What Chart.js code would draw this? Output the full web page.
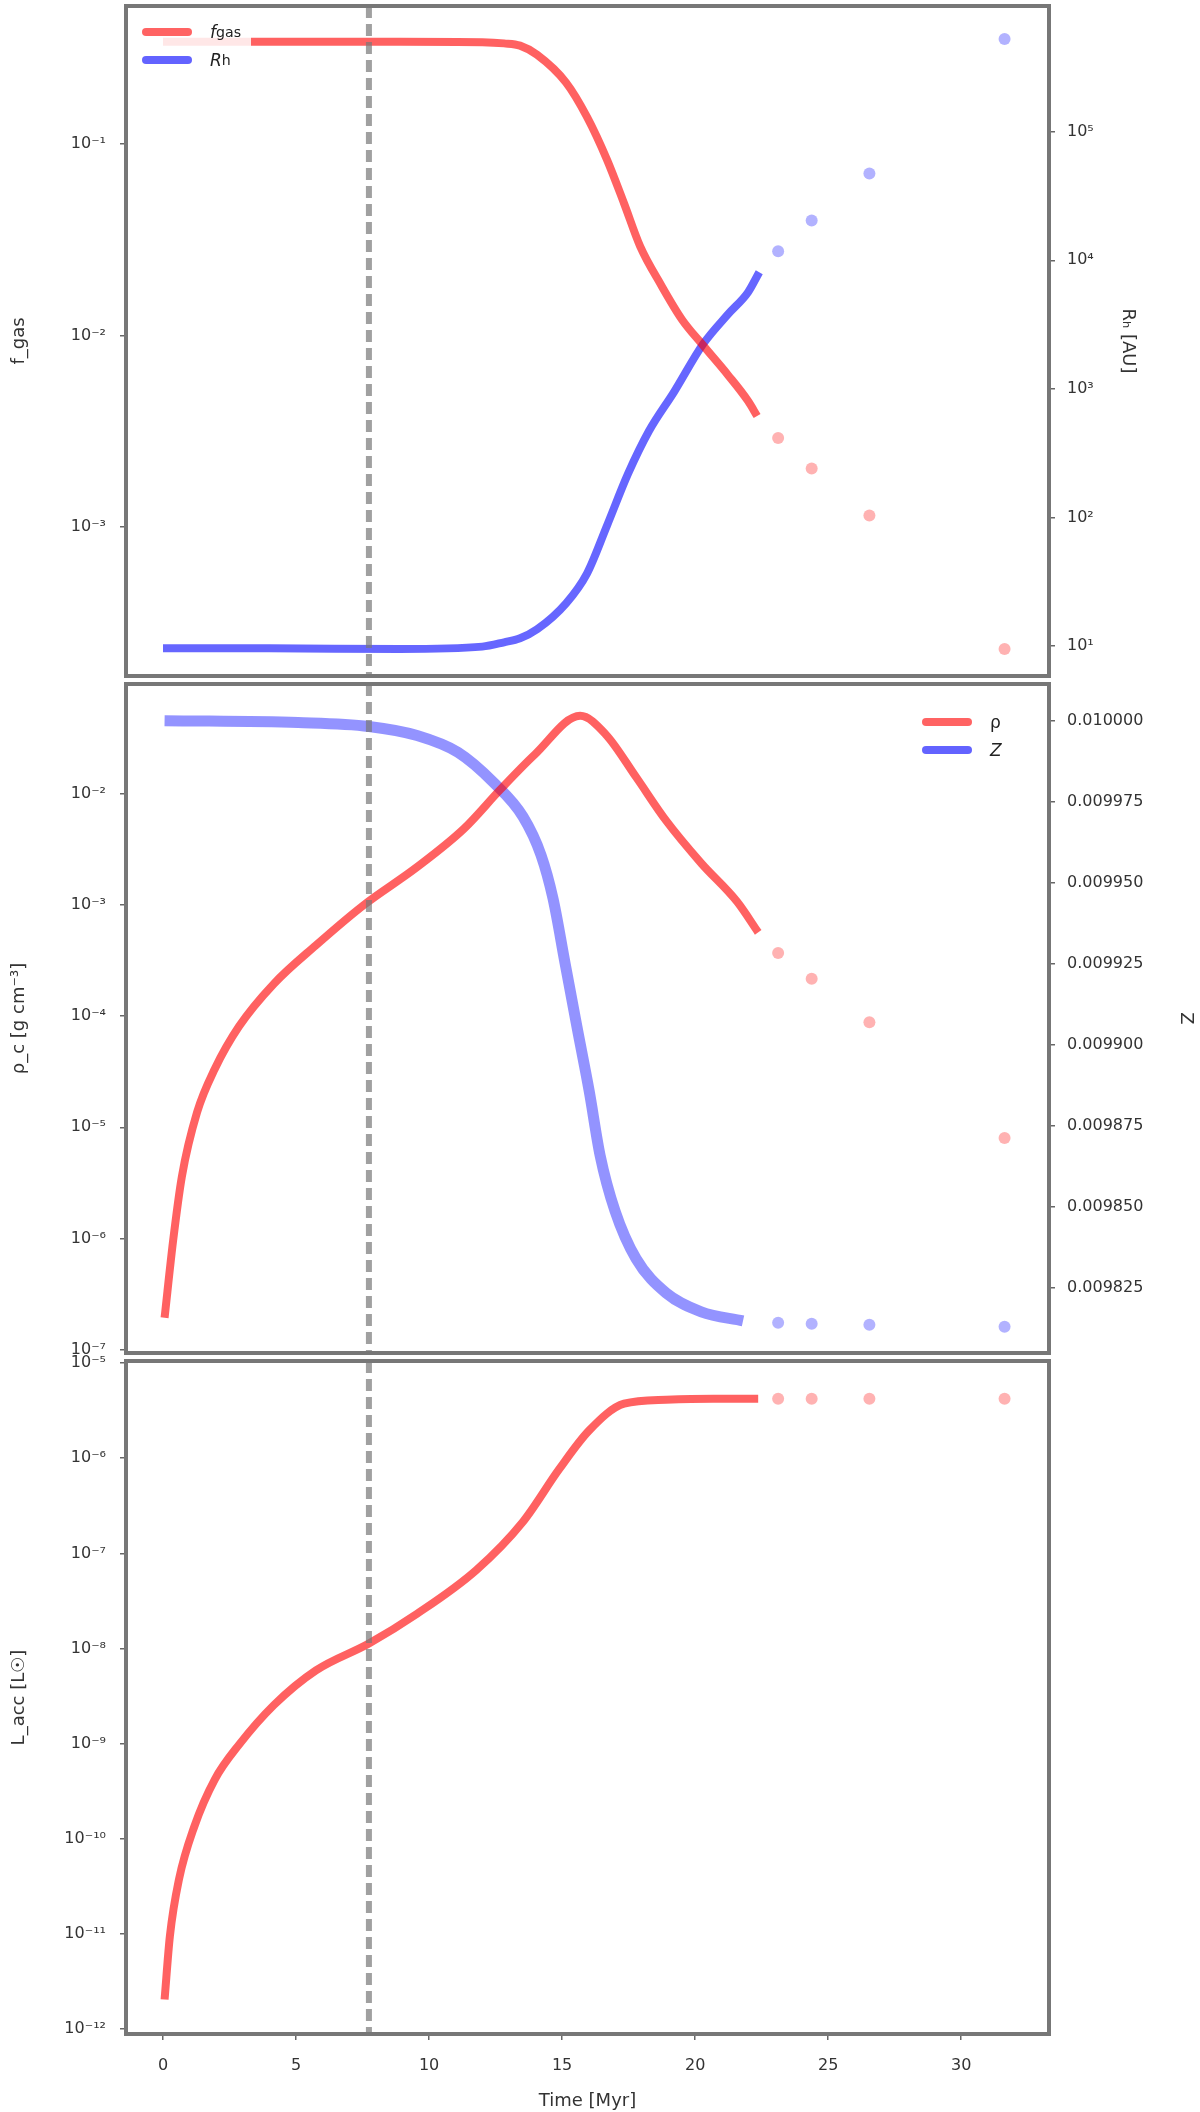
<!DOCTYPE html>
<html>
<head>
<meta charset="utf-8">
<script src="https://cdn.jsdelivr.net/npm/chart.js@4.4.1/dist/chart.umd.min.js"></script>
<style>
  body { margin: 0; background: #fff; font-family: "DejaVu Sans", sans-serif; }
  #wrap { position: relative; width: 1200px; height: 2112px; }
  canvas { position: absolute; left: 0; }
  .legend { position: absolute; background: rgba(255,255,255,0.85); font-size: 17px; color: #222; padding: 6px 10px; border-radius: 4px; }
  .legend div { display: flex; align-items: center; height: 28px; }
  .legend .sw { display: inline-block; width: 50px; height: 8px; border-radius: 4px; margin-right: 18px; }
</style>
</head>
<body>
<div id="wrap">
  <canvas id="c1" width="1200" height="682" style="top:0px"></canvas>
  <canvas id="c2" width="1200" height="681" style="top:678px"></canvas>
  <canvas id="c3" width="1200" height="757" style="top:1355px"></canvas>
  <div class="legend" style="left:132px;top:12px;">
    <div><span class="sw" style="background:rgba(255,60,60,0.8)"></span><i>f</i><sub>gas</sub></div>
    <div><span class="sw" style="background:rgba(60,60,255,0.8)"></span><i>R</i><sub>h</sub></div>
  </div>
  <div class="legend" style="left:912px;top:702px;">
    <div><span class="sw" style="background:rgba(255,60,60,0.8)"></span>ρ</div>
    <div><span class="sw" style="background:rgba(60,60,255,0.8)"></span><i>Z</i></div>
  </div>
</div>
<script>
// shared time axis
const xMin = -1.39, xMax = 33.3;
const timeTicks = [0, 5, 10, 15, 20, 25, 30];
const markerTime = 7.74;
const tailTime = [23.12, 24.38, 26.55, 31.63];

// panel 1: gas fraction (left) and radius (right)
const fracTicks = [1e-1, 1e-2, 1e-3];
const radiusTicks = [1e1, 1e2, 1e3, 1e4, 1e5];
const gasTime = [0, 4, 8.9, 12.0, 12.82, 13.42, 14.06, 15.15, 15.94, 16.69, 17.33, 17.93, 18.72, 19.51, 20.30, 21.24, 21.99, 22.33];
const gasFrac = [0.342, 0.342, 0.342, 0.34, 0.335, 0.326, 0.292, 0.209, 0.138, 0.0826, 0.0489, 0.0293, 0.01836, 0.0121, 0.00888, 0.00621, 0.00455, 0.0038];
const gasFracTail = [0.00292, 0.00202, 0.00115, 0.000231];
const radTime = [0, 4, 8.9, 12.0, 12.82, 13.42, 14.06, 15.15, 15.94, 16.69, 17.48, 18.27, 19.21, 20.30, 21.24, 21.99, 22.41];
const radius = [9.6, 9.6, 9.5, 9.9, 10.7, 11.5, 13.5, 21.5, 36.8, 86.7, 219, 472, 948, 2233, 3812, 5645, 8072];
const radiusTail = [11750, 20420, 47230, 526000];

// panel 2: density (left) and metallicity (right)
const densTicks = [1e-2, 1e-3, 1e-4, 1e-5, 1e-6, 1e-7];
const zTicks = [0.01, 0.009975, 0.00995, 0.009925, 0.0099, 0.009875, 0.00985, 0.009825];
const densTime = [0.06, 0.38, 0.71, 1.28, 1.95, 2.86, 4.17, 5.75, 7.52, 9.55, 11.32, 12.67, 13.98, 15.68, 16.65, 17.78, 18.91, 20.23, 21.58, 22.37];
const density = [1.93e-7, 9.5e-7, 3.6e-6, 1.36e-5, 3.36e-5, 8.1e-5, 1.96e-4, 4.35e-4, 9.9e-4, 2.2e-3, 4.89e-3, 1.09e-2, 2.27e-2, 5.05e-2, 3.42e-2, 1.42e-2, 5.75e-3, 2.38e-3, 1.07e-3, 5.68e-4];
const densityTail = [3.7e-4, 2.17e-4, 8.8e-5, 8.0e-6];
const zTime = [0.06, 5.08, 7.74, 9.55, 11.09, 12.44, 13.53, 14.21, 14.66, 15.11, 15.56, 16.02, 16.43, 16.99, 17.78, 18.91, 20.23, 21.80];
const metal = [0.0100000, 0.0099994, 0.0099982, 0.0099954, 0.0099902, 0.0099808, 0.0099704, 0.0099585, 0.0099451, 0.0099253, 0.0099055, 0.0098857, 0.0098659, 0.0098488, 0.0098341, 0.0098235, 0.0098177, 0.0098149];
const metalTail = [0.0098143, 0.009814, 0.0098137, 0.0098131];

// panel 3: luminosity
const lumTicks = [1e-5, 1e-6, 1e-7, 1e-8, 1e-9, 1e-10, 1e-11, 1e-12];
const lumTime = [0.06, 0.26, 0.60, 1.17, 1.95, 2.86, 4.17, 5.75, 7.74, 9.55, 11.77, 13.53, 14.89, 16.02, 17.33, 18.91, 20.68, 22.37];
const lum = [2.05e-12, 9.53e-12, 3.74e-11, 1.33e-10, 4.22e-10, 9.77e-10, 2.55e-9, 5.9e-9, 1.13e-8, 2.32e-8, 6.65e-8, 2.15e-7, 7.67e-7, 1.96e-6, 3.74e-6, 4.12e-6, 4.22e-6, 4.22e-6];
const lumTail = [4.22e-6, 4.22e-6, 4.22e-6, 4.22e-6];

const RED = 'rgba(255,0,0,0.62)', RED_PT = 'rgba(255,0,0,0.3)';
const BLUE = 'rgba(0,0,255,0.6)', BLUE_PT = 'rgba(0,0,255,0.3)';
const tickFont = { family: 'DejaVu Sans', size: 16 };
const titleFont = { family: 'DejaVu Sans', size: 18 };

const pts = (xs, ys) => xs.map((x, i) => ({ x, y: ys[i] }));
const SUP = { '-': '⁻', '0': '⁰', '1': '¹', '2': '²', '3': '³', '4': '⁴', '5': '⁵', '6': '⁶', '7': '⁷', '8': '⁸', '9': '⁹' };
const pow10 = v => '10' + String(Math.round(Math.log10(v))).split('').map(c => SUP[c]).join('');
const noPad = s => { s.paddingTop = 0; s.paddingBottom = 0; s.paddingLeft = 0; s.paddingRight = 0; };

function curve(xs, ys, color, width, axis) {
  return { data: pts(xs, ys), showLine: true, borderColor: color, borderWidth: width, pointRadius: 0,
           cubicInterpolationMode: 'monotone', yAxisID: axis };
}
function tail(xs, ys, color, axis) {
  return { data: pts(xs, ys), showLine: false, pointRadius: 6, pointBorderWidth: 0,
           backgroundColor: color, yAxisID: axis };
}

function yAxis(pos, type, min, max, ticks, fmt, title, titlePad, width) {
  return {
    type, position: pos, min, max,
    afterFit: s => { s.width = width; noPad(s); },
    afterBuildTicks: s => { s.ticks = ticks.map(v => ({ value: v })); },
    ticks: { callback: fmt, font: tickFont, color: '#333', padding: pos === 'left' ? 14 : 12, autoSkip: false },
    grid: { drawOnChartArea: false, tickLength: 6, color: '#666', lineWidth: 1.5 },
    border: { display: false },
    title: { display: true, text: title, font: titleFont, color: '#333', padding: { top: titlePad, bottom: 0 } }
  };
}

// frame and vertical dashed marker
const decor = {
  id: 'decor',
  afterDatasetsDraw(chart) {
    const { ctx, chartArea: a, scales: { x } } = chart;
    const px = x.getPixelForValue(markerTime);
    ctx.save();
    ctx.strokeStyle = 'rgba(120,120,120,0.7)';
    ctx.lineWidth = 6;
    ctx.setLineDash([12, 6]);
    ctx.beginPath(); ctx.moveTo(px, a.top); ctx.lineTo(px, a.bottom); ctx.stroke();
    ctx.setLineDash([]);
    ctx.strokeStyle = '#777';
    ctx.lineWidth = 4;
    ctx.strokeRect(a.left, a.top, a.right - a.left, a.bottom - a.top);
    ctx.restore();
  }
};

const xHidden = { type: 'linear', min: xMin, max: xMax, display: false };
const common = { responsive: false, animation: false, plugins: { legend: { display: false }, tooltip: { enabled: false } } };

new Chart(document.getElementById('c1'), {
  type: 'scatter',
  data: { datasets: [
    curve(gasTime, gasFrac, RED, 8, 'y'),
    tail(tailTime, gasFracTail, RED_PT, 'y'),
    curve(radTime, radius, BLUE, 8, 'y2'),
    tail(tailTime, radiusTail, BLUE_PT, 'y2')
  ] },
  options: { ...common, layout: { padding: { top: 5, bottom: 2, left: 0, right: 0 } },
    scales: {
      x: xHidden,
      y: yAxis('left', 'logarithmic', 1.67e-4, 0.525, fracTicks, pow10, 'f_gas', 9, 126),
      y2: yAxis('right', 'logarithmic', 5.85, 9.5e5, radiusTicks, pow10, 'Rₕ [AU]', 62, 151)
    } },
  plugins: [decor]
});

new Chart(document.getElementById('c2'), {
  type: 'scatter',
  data: { datasets: [
    curve(densTime, density, RED, 8, 'y'),
    tail(tailTime, densityTail, RED_PT, 'y'),
    curve(zTime, metal, 'rgba(40,40,255,0.5)', 11, 'y2'),
    tail(tailTime, metalTail, BLUE_PT, 'y2')
  ] },
  options: { ...common, layout: { padding: { top: 2, bottom: 2, left: 0, right: 0 } },
    scales: {
      x: xHidden,
      y: yAxis('left', 'logarithmic', 9.3e-8, 0.0977, densTicks, pow10, 'ρ_c [g cm⁻³]', 9, 126),
      y2: yAxis('right', 'linear', 0.009805, 0.0100113, zTicks, v => v.toFixed(6), 'Z', 4, 151)
    } },
  plugins: [decor]
});

new Chart(document.getElementById('c3'), {
  type: 'scatter',
  data: { datasets: [
    curve(lumTime, lum, RED, 8, 'y'),
    tail(tailTime, lumTail, RED_PT, 'y')
  ] },
  options: { ...common, layout: { padding: { top: 2, bottom: 0, left: 0, right: 151 } },
    scales: {
      x: { type: 'linear', min: xMin, max: xMax,
           afterFit: s => { s.height = 78; noPad(s); },
           afterBuildTicks: s => { s.ticks = timeTicks.map(v => ({ value: v })); },
           ticks: { font: tickFont, color: '#333', padding: 16, autoSkip: false, maxRotation: 0 },
           grid: { drawOnChartArea: false, tickLength: 6, color: '#666', lineWidth: 1.5 },
           border: { display: false },
           title: { display: true, text: 'Time [Myr]', font: titleFont, color: '#333', padding: { top: 0, bottom: 0 } } },
      y: yAxis('left', 'logarithmic', 8.9e-13, 1.05e-5, lumTicks, pow10, 'L_acc [L☉]', 9, 126)
    } },
  plugins: [decor]
});
</script>
</body>
</html>
